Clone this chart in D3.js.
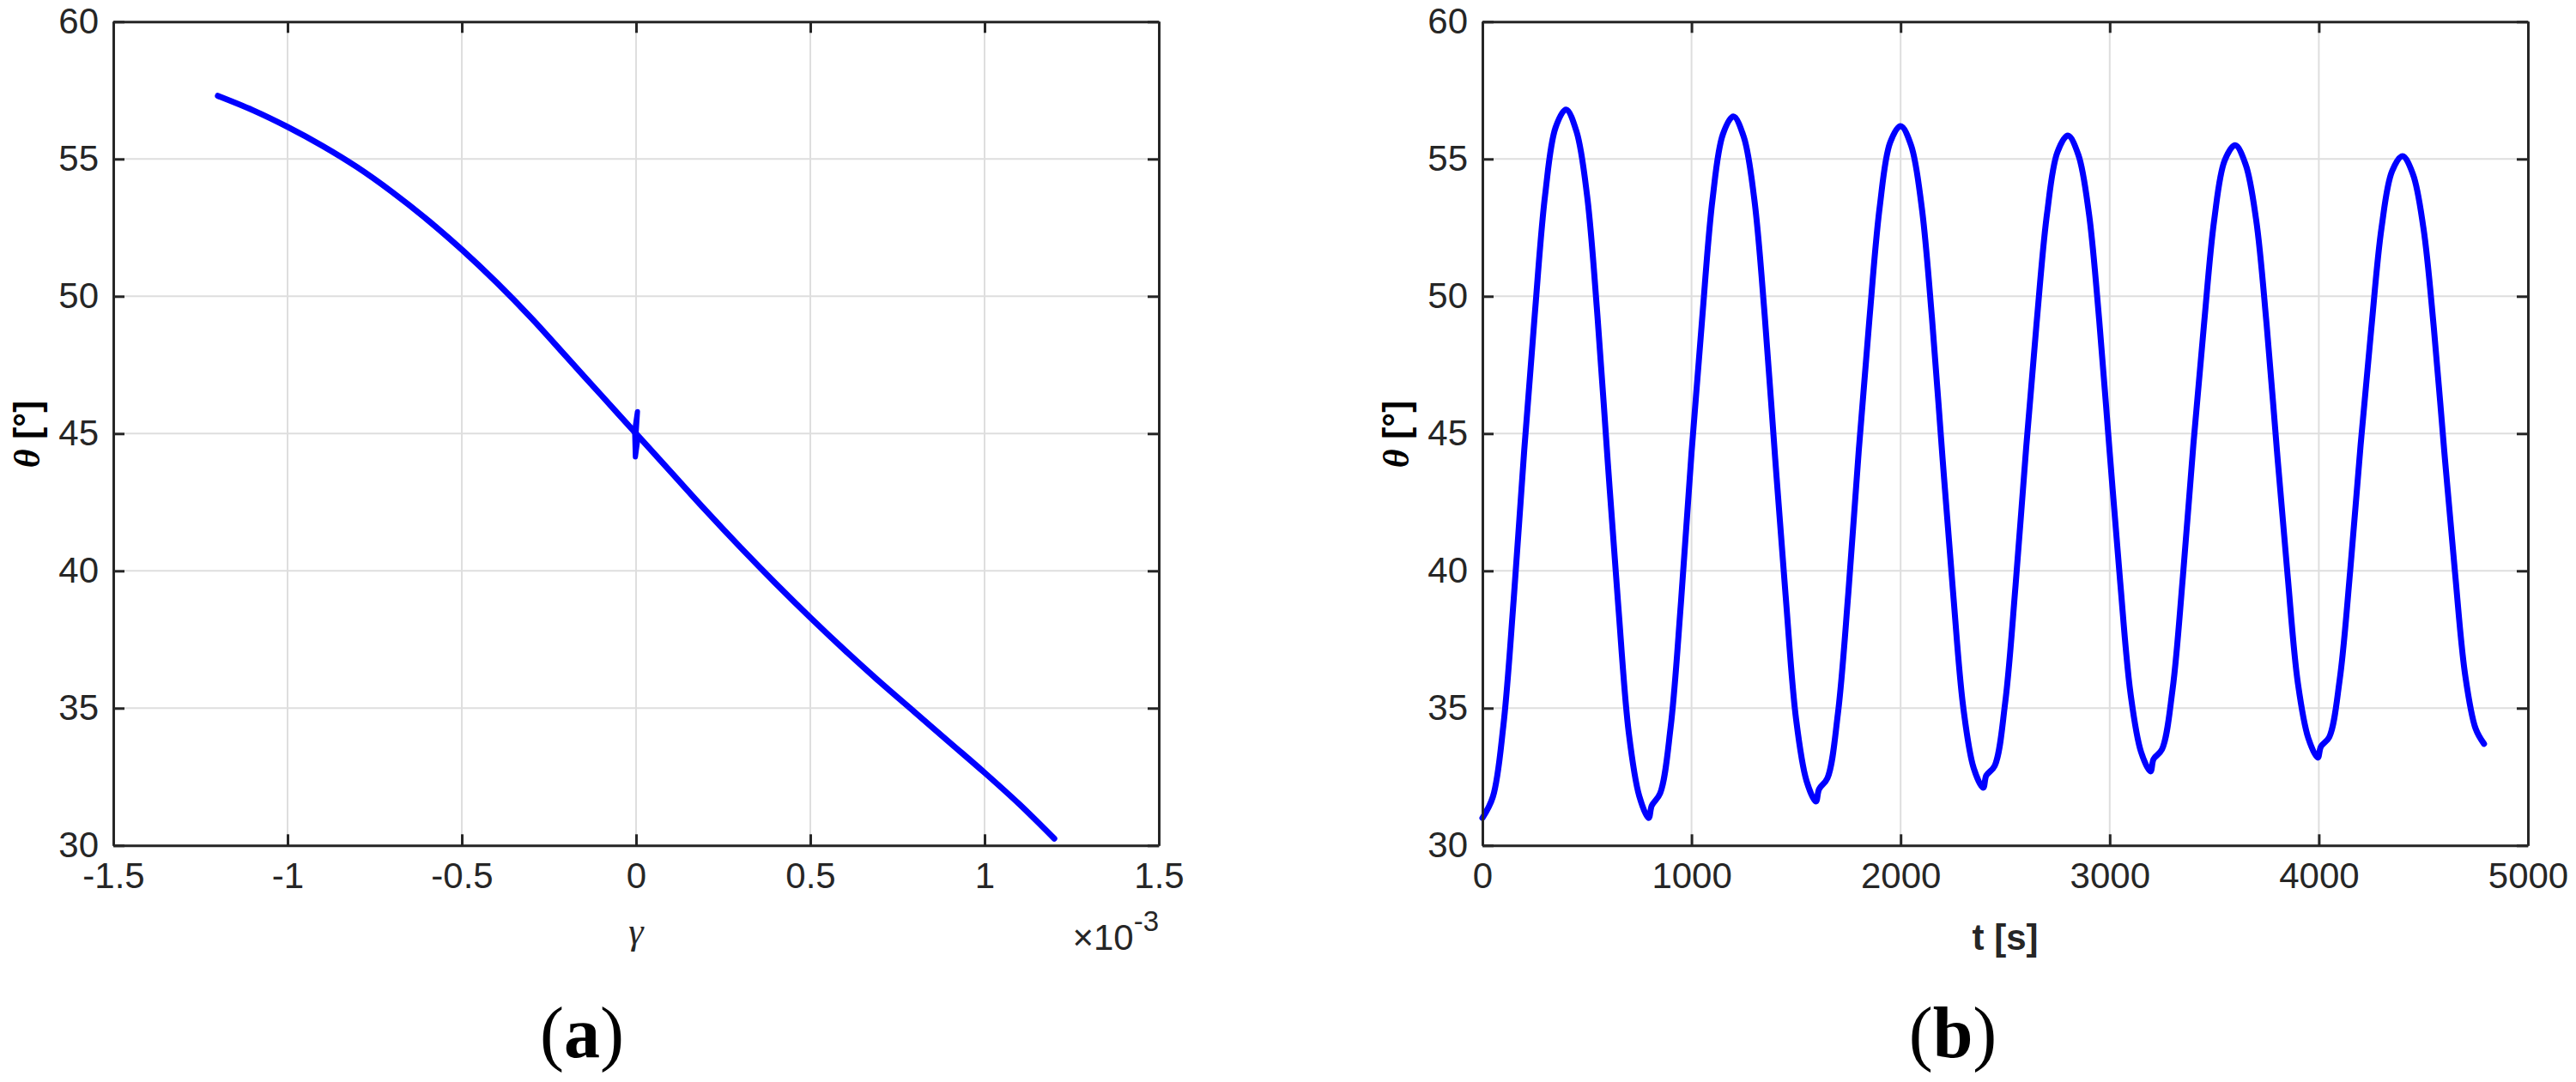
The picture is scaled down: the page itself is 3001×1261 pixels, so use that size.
<!DOCTYPE html>
<html><head><meta charset="utf-8">
<script src="https://cdn.jsdelivr.net/npm/d3@7"></script>
<style>body{margin:0;background:#fff}</style>
</head><body>
<svg id="chart" width="3001" height="1261" xmlns="http://www.w3.org/2000/svg"></svg>
<script>
// ---------- DATA ----------
// Panel (a): theta vs gamma (gamma in units of 1e-3)
const gammaVals = [-1.2, -1.1, -1.0, -0.9, -0.8, -0.7, -0.6, -0.5, -0.4, -0.3, -0.2, -0.1, 0.0, 0.1, 0.2, 0.3, 0.4, 0.5, 0.6, 0.7, 0.8, 0.9, 1.0, 1.1, 1.2];
const thetaA    = [57.3, 56.78, 56.17, 55.48, 54.7, 53.8, 52.8, 51.7, 50.5, 49.2, 47.8, 46.4, 45.0, 43.6, 42.2, 40.85, 39.55, 38.3, 37.1, 35.95, 34.85, 33.75, 32.65, 31.5, 30.25];
// small spike around gamma = 0
const spikeGamma = [0.0, 0.004, -0.004, -0.002, 0.006];
const spikeTheta = [45.0, 45.8, 45.1, 44.15, 44.9];

// Panel (b): theta vs time
const timeVals = [0,50,100,150,200,250,300,350,400,450,500,550,600,650,700,750,795,810,
  850,900,950,1000,1050,1100,1150,1200,1250,1300,1350,1400,1450,1500,1550,1595,1610,
  1650,1700,1750,1800,1850,1900,1950,2000,2050,2100,2150,2200,2250,2300,2350,2395,2410,
  2450,2500,2550,2600,2650,2700,2750,2800,2850,2900,2950,3000,3050,3100,3150,3195,3210,
  3250,3300,3350,3400,3450,3500,3550,3600,3650,3700,3750,3800,3850,3900,3950,3995,4010,
  4050,4100,4150,4200,4250,4300,4350,4400,4450,4500,4550,4600,4650,4700,4750,4790];
const thetaB = [31.0,31.77,34.35,39.0,44.4,49.3,53.7,56.15,56.8,56.0,53.7,49.3,43.9,38.7,34.1,31.8,31.0,31.45,
  31.9,34.3,38.9,44.3,49.1,53.5,55.9,56.55,55.8,53.55,49.3,44.1,39.1,34.6,32.35,31.6,32.05,
  32.45,34.8,39.2,44.4,49.1,53.25,55.6,56.2,55.5,53.3,49.2,44.15,39.3,35.0,32.8,32.1,32.55,
  32.9,35.2,39.5,44.45,49.0,53.0,55.25,55.85,55.15,53.05,49.1,44.3,39.6,35.5,33.4,32.7,33.15,
  33.5,35.65,39.8,44.6,48.9,52.8,54.95,55.5,54.8,52.8,49.0,44.35,39.9,35.9,33.9,33.2,33.6,
  33.95,36.05,40.0,44.6,48.75,52.5,54.55,55.1,54.45,52.5,48.85,44.35,40.05,36.2,34.25,33.7];

const gammaTicks = [-1.5, -1, -0.5, 0, 0.5, 1, 1.5];
const timeTicks = [0, 1000, 2000, 3000, 4000, 5000];
const thetaTicks = [30, 35, 40, 45, 50, 55, 60];

// ---------- DRAW ----------
const svg = d3.select("#chart");
const AX = "#262626", GRID = "#dedede", BLUE = "#0000ff";
const SANS = "'Liberation Sans', Arial, Helvetica, sans-serif";
const SERIF = "'Liberation Serif', 'Times New Roman', serif";
const TOP = 25.3, BOT = 985.3;

function panel(cfg) {
  const x = d3.scaleLinear().domain(cfg.xDomain).range([cfg.left, cfg.right]);
  const y = d3.scaleLinear().domain([30, 60]).range([BOT, TOP]);
  const g = svg.append("g");

  // grid
  g.append("g").selectAll("line").data(cfg.xTicks).join("line")
    .attr("x1", d => x(d)).attr("x2", d => x(d)).attr("y1", TOP).attr("y2", BOT)
    .attr("stroke", GRID).attr("stroke-width", 2);
  g.append("g").selectAll("line").data(thetaTicks).join("line")
    .attr("x1", cfg.left).attr("x2", cfg.right).attr("y1", d => y(d)).attr("y2", d => y(d))
    .attr("stroke", GRID).attr("stroke-width", 2);

  // data
  const line = d3.line().x(d => x(d[0])).y(d => y(d[1])).curve(d3.curveCatmullRom.alpha(0.5));
  g.append("path").datum(cfg.xs.map((v, i) => [v, cfg.ys[i]]))
    .attr("d", line).attr("fill", "none").attr("stroke", BLUE)
    .attr("stroke-width", 7).attr("stroke-linejoin", "round").attr("stroke-linecap", "round");
  if (cfg.extraX) {
    const l2 = d3.line().x(d => x(d[0])).y(d => y(d[1]));
    g.append("path").datum(cfg.extraX.map((v, i) => [v, cfg.extraY[i]]))
      .attr("d", l2).attr("fill", "none").attr("stroke", BLUE)
      .attr("stroke-width", 6).attr("stroke-linejoin", "round").attr("stroke-linecap", "round");
  }

  // axes
  const styleAxis = (sel) => {
    sel.selectAll(".domain").attr("stroke", AX).attr("stroke-width", 3);
    sel.selectAll(".tick line").attr("stroke", AX).attr("stroke-width", 3);
    sel.selectAll("text").attr("fill", AX).style("font-family", SANS).style("font-size", "42px");
  };
  g.append("g").attr("transform", `translate(0,${BOT})`)
    .call(d3.axisBottom(x).tickValues(cfg.xTicks).tickFormat(d => String(d)).tickSize(-13).tickSizeOuter(0).tickPadding(20))
    .call(styleAxis);
  g.append("g").attr("transform", `translate(0,${TOP})`)
    .call(d3.axisTop(x).tickValues(cfg.xTicks).tickFormat("").tickSize(-13).tickSizeOuter(0))
    .call(styleAxis);
  g.append("g").attr("transform", `translate(${cfg.left},0)`)
    .call(d3.axisLeft(y).tickValues(thetaTicks).tickFormat(d => String(d)).tickSize(-13).tickSizeOuter(0).tickPadding(17))
    .call(styleAxis);
  g.append("g").attr("transform", `translate(${cfg.right},0)`)
    .call(d3.axisRight(y).tickValues(thetaTicks).tickFormat("").tickSize(-13).tickSizeOuter(0))
    .call(styleAxis);

  // y label
  const yl = g.append("text")
    .attr("transform", `translate(${cfg.left - 86},506) rotate(-90)`)
    .attr("text-anchor", "middle").attr("fill", "#000")
    .style("font-family", SANS).style("font-size", "42px").style("font-weight", "bold");
  yl.append("tspan").text("θ").style("font-family", SERIF).style("font-style", "italic");
  yl.append("tspan").text(" [°]");

  // panel letter
  const pl = g.append("text").attr("x", cfg.letterX).attr("y", 1232)
    .attr("text-anchor", "middle").attr("fill", "#000")
    .style("font-family", SERIF).style("font-size", "84px");
  pl.append("tspan").text("(");
  pl.append("tspan").text(cfg.letter).style("font-weight", "bold");
  pl.append("tspan").text(")");
  return { g, x, y };
}

const A = panel({ left: 132, right: 1350, xDomain: [-1.5, 1.5], xTicks: gammaTicks,
  xs: gammaVals, ys: thetaA, extraX: spikeGamma, extraY: spikeTheta, letter: "a", letterX: 678 });
const B = panel({ left: 1727, right: 2945, xDomain: [0, 5000], xTicks: timeTicks,
  xs: timeVals, ys: thetaB, letter: "b", letterX: 2275 });

// x labels
A.g.append("text").attr("x", 741).attr("y", 1100).attr("text-anchor", "middle")
  .attr("fill", AX).style("font-family", SERIF).style("font-style", "italic").style("font-size", "44px")
  .text("γ");
const mult = A.g.append("text").attr("x", 1350).attr("y", 1107).attr("text-anchor", "end")
  .attr("fill", AX).style("font-family", SANS).style("font-size", "42px");
mult.append("tspan").text("×10");
mult.append("tspan").text("-3").attr("dy", -22).style("font-size", "33px");

B.g.append("text").attr("x", 2336).attr("y", 1107).attr("text-anchor", "middle")
  .attr("fill", AX).style("font-family", SANS).style("font-size", "42px").style("font-weight", "bold")
  .text("t [s]");
</script>
</body></html>
